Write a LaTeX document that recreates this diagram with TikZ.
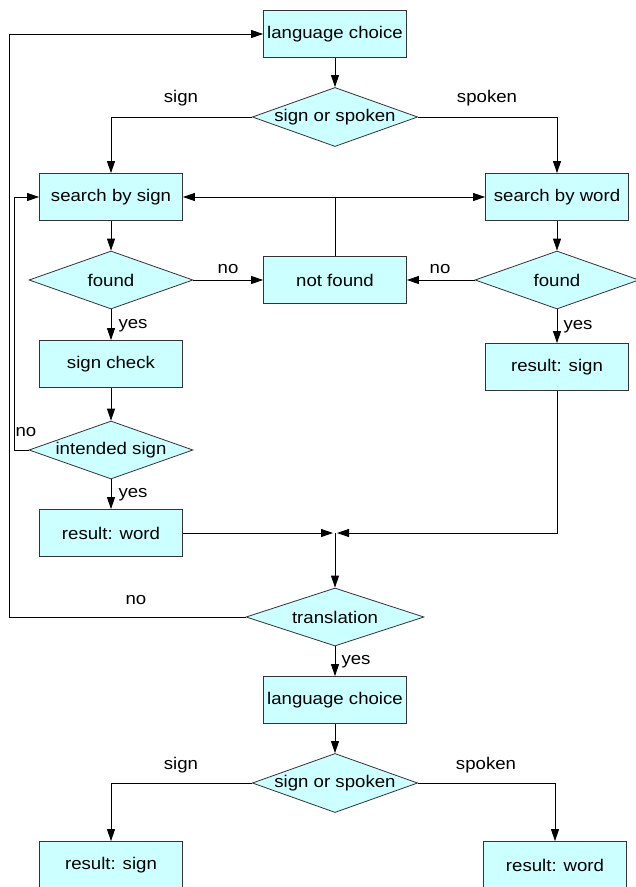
\documentclass[tikz,border=0pt]{standalone}
\usepackage{fontspec}
\setmainfont{Liberation Sans}[FakeStretch=1.1]
\usetikzlibrary{shapes.geometric,arrows.meta}
\definecolor{boxcyan}{HTML}{CCFFFF}
\begin{document}
\begin{tikzpicture}[x=1bp,y=-1bp,
  font=\fontsize{17}{20}\selectfont,
  box/.style={draw=black!80, line width=0.8bp, fill=boxcyan, minimum width=143bp, minimum height=47bp, inner sep=0pt},
  dia/.style={diamond, draw=black!80, line width=0.8bp, fill=boxcyan, aspect=2.8, inner sep=0pt, minimum width=164bp, minimum height=58bp},
  arr/.style={line width=0.8bp, -{Triangle[length=12bp,width=8bp]}},
  ln/.style={line width=0.8bp},
  lbl/.style={inner sep=0pt}]
\useasboundingbox (0,0) rectangle (636,887);
\clip (0,0) rectangle (636,887);
% nodes
\node[box] (lc1) at (335,34) {language choice};
\node[dia] (ss1) at (335,117) {sign or spoken};
\node[box] (sbs) at (111,197) {search by sign};
\node[box] (sbw) at (557,197) {search by word};
\node[dia] (f1) at (111,280) {found};
\node[box] (nf) at (335,280) {not found};
\node[dia] (f2) at (557,280) {found};
\node[box] (sc) at (111,364) {sign check};
\node[box] (rs) at (557,367) {result: sign};
\node[dia] (is) at (111,450) {intended sign};
\node[box] (rw) at (111,533) {result: word};
\node[dia, minimum width=178bp] (tr) at (335,617) {translation};
\node[box] (lc2) at (335,700) {language choice};
\node[dia] (ss2) at (335,783) {sign or spoken};
\node[box] (rsg) at (111,865) {result: sign};
\node[box] (rwd) at (555,865) {result: word};
% coordinates
\coordinate (nfj) at (335,197);
\coordinate (lp1) at (14,450);
\coordinate (lp2) at (9,617);
\coordinate (jl) at (333,533);
\coordinate (jr) at (337,533);
\coordinate (j) at (335,533);
% labels
\node[lbl] (tsign1) at (181,98) {sign};
\node[lbl] (tspk1) at (487,98) {spoken};
\node[lbl] (tno1) at (228,269) {no};
\node[lbl] (tno2) at (440,269) {no};
\node[lbl] (tyes1) at (133,326) {yes};
\node[lbl] (tyes2) at (578,327) {yes};
\node[lbl] (tno3) at (26,432) {no};
\node[lbl] (tyes3) at (133,495) {yes};
\node[lbl] (tno4) at (136,600) {no};
\node[lbl] (tyes4) at (356,662) {yes};
\node[lbl] (tsign2) at (181,765) {sign};
\node[lbl] (tspk2) at (486,765) {spoken};
% connectors
\draw[arr] (lc1) -- (ss1);
\draw[arr] (ss1.west) -| (sbs);
\draw[arr] (ss1.east) -| (sbw);
\draw[arr] (sbs) -- (f1);
\draw[arr] (sbw) -- (f2);
\draw[arr] (f1) -- (nf);
\draw[arr] (f2) -- (nf);
\draw[ln] (nf.north) -- (nfj);
\draw[arr] (nfj) -- (sbs);
\draw[arr] (nfj) -- (sbw);
\draw[arr] (f1) -- (sc);
\draw[arr] (f2) -- (rs);
\draw[arr] (sc) -- (is);
\draw[arr] (is.west) -- (lp1) |- (sbs.west);
\draw[arr] (is) -- (rw);
\draw[arr] (rw.east) -- (jl);
\draw[arr] (rs.south) |- (jr);
\draw[arr] (j) -- (tr);
\draw[arr] (tr.west) -- (lp2) |- (lc1.west);
\draw[arr] (tr) -- (lc2);
\draw[arr] (lc2) -- (ss2);
\draw[arr] (ss2.west) -| (rsg);
\draw[arr] (ss2.east) -| (rwd);
\end{tikzpicture}
\end{document}
